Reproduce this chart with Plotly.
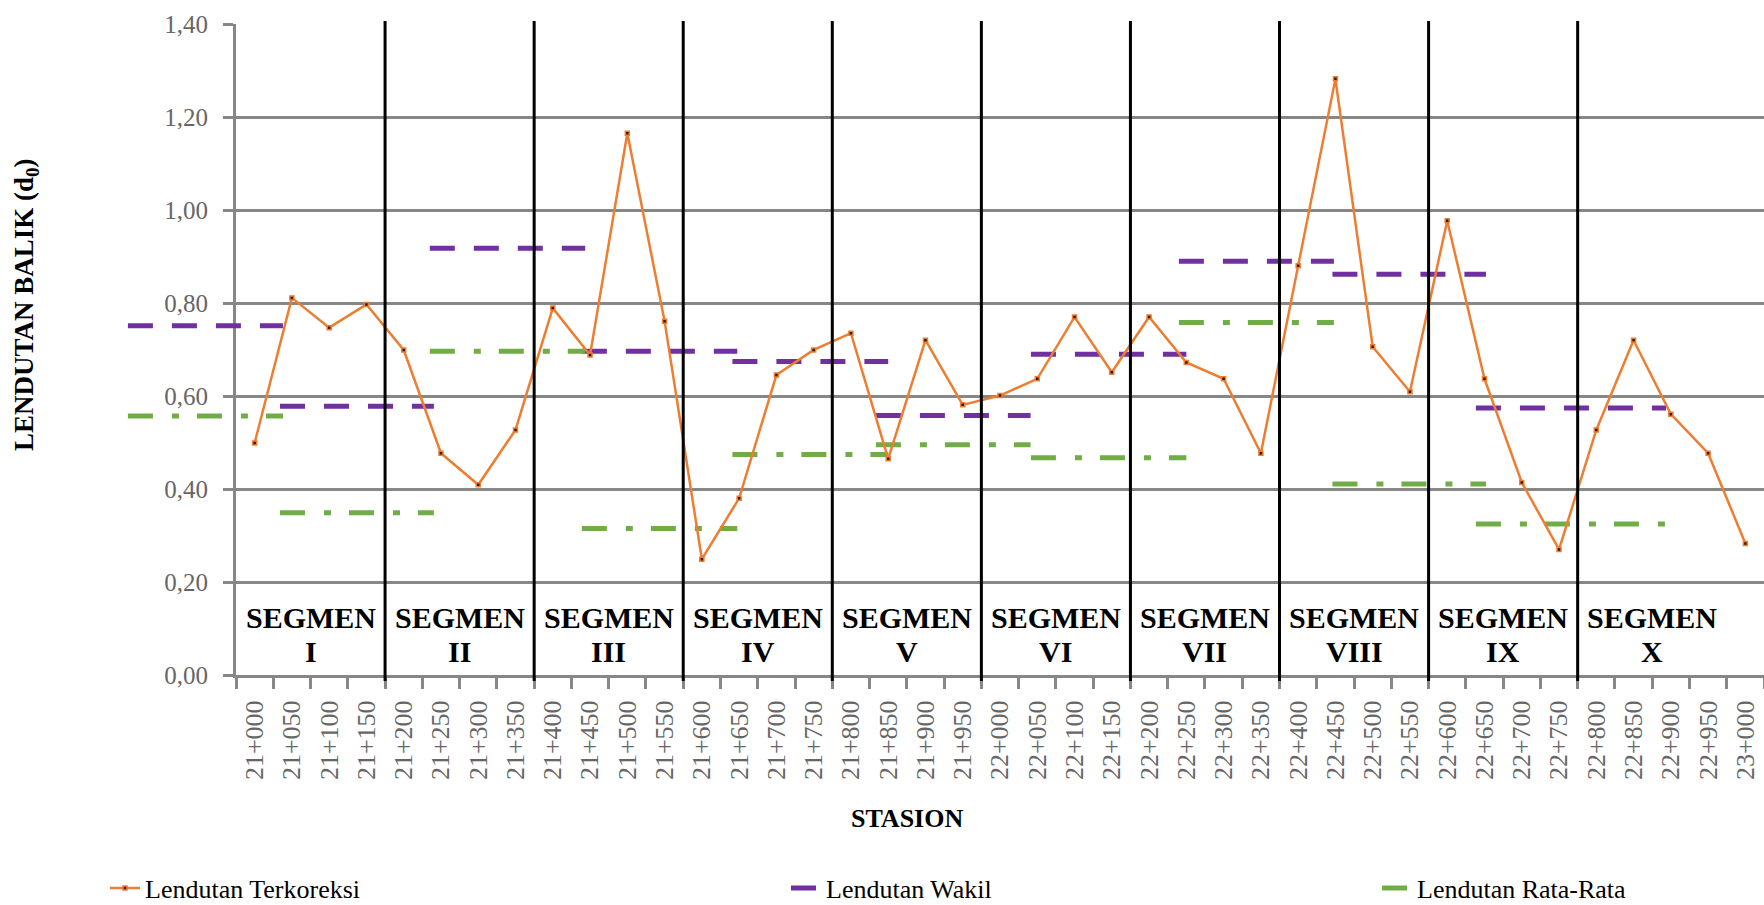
import plotly.graph_objects as go

# ---------------- data ----------------
stations = ["21+000", "21+050", "21+100", "21+150", "21+200", "21+250", "21+300", "21+350",
            "21+400", "21+450", "21+500", "21+550", "21+600", "21+650", "21+700", "21+750",
            "21+800", "21+850", "21+900", "21+950", "22+000", "22+050", "22+100", "22+150",
            "22+200", "22+250", "22+300", "22+350", "22+400", "22+450", "22+500", "22+550",
            "22+600", "22+650", "22+700", "22+750", "22+800", "22+850", "22+900", "22+950",
            "23+000"]

lendutan_terkoreksi = [0.499, 0.811, 0.747, 0.797, 0.699, 0.477, 0.409, 0.527,
                       0.789, 0.688, 1.165, 0.761, 0.249, 0.380, 0.645, 0.699,
                       0.735, 0.465, 0.720, 0.581, 0.601, 0.637, 0.770, 0.651,
                       0.770, 0.672, 0.637, 0.477, 0.880, 1.282, 0.706, 0.609,
                       0.977, 0.637, 0.414, 0.270, 0.527, 0.720, 0.561, 0.477,
                       0.283]

segments = ["I", "II", "III", "IV", "V", "VI", "VII", "VIII", "IX", "X"]
segment_sizes = [4, 4, 4, 4, 4, 4, 4, 4, 4, 5]

lendutan_wakil = [0.751, 0.578, 0.918, 0.696, 0.674, 0.558, 0.690, 0.890, 0.862, 0.574]
lendutan_rata = [0.557, 0.349, 0.696, 0.315, 0.474, 0.495, 0.467, 0.758, 0.411, 0.325]

# extent of each segment's reference line, in station-index units
line_start = [-3.40, 0.68, 4.70, 8.78, 12.82, 16.67, 20.83, 24.80, 28.92, 32.77]
line_end = [0.76, 4.81, 8.87, 12.95, 17.00, 20.82, 25.00, 28.96, 33.04, 37.87]

# ---------------- layout constants ----------------
W, H = 1764, 905
PLOT_L, PLOT_T, PLOT_B = 236, 24, 675
SERIF = "Liberation Serif"
GRID = "#878787"
TICKTXT = "#666666"

n = len(stations)
cw = (W - PLOT_L) / n
xdom = [PLOT_L / W, 1.0]
ydom = [1 - PLOT_B / H, 1 - PLOT_T / H]
x2range = [-0.5 - PLOT_L / cw, n - 0.5]
YR = [0, 1.4]


def seg_xy(values):
    xs, ys = [], []
    for s, e, v in zip(line_start, line_end, values):
        xs += [s, e, None]
        ys += [v, v, None]
    return xs, ys


fig = go.Figure()

# invisible trace that defines the station categories on the visible axis
fig.add_trace(go.Scatter(x=stations, y=lendutan_terkoreksi, xaxis="x", yaxis="y",
                         mode="lines", line=dict(width=0), opacity=0,
                         showlegend=False, hoverinfo="skip"))

wx, wy = seg_xy(lendutan_wakil)
fig.add_trace(go.Scatter(x=wx, y=wy, xaxis="x2", yaxis="y2", mode="lines",
                         name="Lendutan Wakil", legend="legend2",
                         line=dict(color="#7030A0", width=5, dash="25px,19px")))

rx, ry = seg_xy(lendutan_rata)
fig.add_trace(go.Scatter(x=rx, y=ry, xaxis="x2", yaxis="y2", mode="lines",
                         name="Lendutan Rata-Rata", legend="legend3",
                         line=dict(color="#70AD47", width=5, dash="25px,19px,7px,18px")))

fig.add_trace(go.Scatter(x=list(range(n)), y=lendutan_terkoreksi, xaxis="x2", yaxis="y2",
                         mode="lines+markers", name="Lendutan Terkoreksi", legend="legend",
                         line=dict(color="#ED7D31", width=2.5),
                         marker=dict(symbol="square", size=4, color="#3a1a05",
                                     line=dict(color="#ED7D31", width=1.5))))

# segment boundaries and labels
shapes = []
annotations = []
pos = 0
for name, size in zip(segments, segment_sizes):
    center = pos + 1.5
    annotations.append(dict(x=center, y=0.1234, xref="x2", yref="y2", text="<b>SEGMEN</b>",
                            showarrow=False, xanchor="center", yanchor="middle",
                            font=dict(family=SERIF, size=30, color="black")))
    annotations.append(dict(x=center, y=0.0495, xref="x2", yref="y2", text="<b>%s</b>" % name,
                            showarrow=False, xanchor="center", yanchor="middle",
                            font=dict(family=SERIF, size=30, color="black")))
    pos += size
    if pos < n:
        shapes.append(dict(type="line", xref="x2", yref="paper",
                           x0=pos - 0.5, x1=pos - 0.5,
                           y0=ydom[0] - 6 / H, y1=ydom[1] + 3 / H,
                           line=dict(color="black", width=3), layer="above"))

# axis titles
annotations.append(dict(x=907 / W, y=1 - 818 / H, xref="paper", yref="paper",
                        text="<b>STASION</b>", showarrow=False,
                        xanchor="center", yanchor="middle",
                        font=dict(family=SERIF, size=26, color="black")))
annotations.append(dict(x=26 / W, y=1 - 305 / H, xref="paper", yref="paper",
                        text="<b>LENDUTAN BALIK (d<sub>0</sub>)</b>", showarrow=False,
                        textangle=-90, xanchor="center", yanchor="middle",
                        font=dict(family=SERIF, size=27, color="black")))

legend_common = dict(orientation="h", yanchor="middle", xanchor="left",
                     y=1 - 888 / H, bgcolor="rgba(0,0,0,0)",
                     font=dict(family=SERIF, size=26, color="black"))

fig.update_layout(
    width=W, height=H,
    margin=dict(l=0, r=0, t=0, b=0, autoexpand=False),
    paper_bgcolor="white",
    plot_bgcolor="rgba(0,0,0,0)",
    separators=", ",
    font=dict(family=SERIF),
    xaxis=dict(type="category", domain=xdom, anchor="y", range=[-0.5, n - 0.5],
               automargin=False,
               categoryorder="array", categoryarray=stations,
               tickson="boundaries", ticks="outside", ticklen=11, tickwidth=2.5,
               tickcolor=GRID, showline=True, linewidth=3, linecolor=GRID,
               showgrid=False, tickangle=-90, ticklabelstandoff=12,
               tickfont=dict(family=SERIF, size=26, color=TICKTXT)),
    yaxis=dict(domain=ydom, anchor="x", range=YR, dtick=0.2, tick0=0,
               automargin=False,
               tickformat=".2f", showgrid=True, gridcolor=GRID, gridwidth=3,
               showline=True, linewidth=3, linecolor=GRID, zeroline=False,
               ticks="outside", ticklen=10, tickwidth=2.5, tickcolor=GRID,
               ticklabelstandoff=10,
               tickfont=dict(family=SERIF, size=25, color=TICKTXT)),
    xaxis2=dict(domain=[0, 1], anchor="y2", range=x2range, visible=False, automargin=False),
    yaxis2=dict(domain=ydom, anchor="x2", range=YR, visible=False, showgrid=False,
                automargin=False),
    legend=dict(x=105 / W, **legend_common),
    legend2=dict(x=786 / W, **legend_common),
    legend3=dict(x=1377 / W, **legend_common),
    shapes=shapes,
    annotations=annotations,
    hovermode=False,
)

fig.write_html("out.html",
               config={"displayModeBar": False},
               post_script="document.body.style.margin='0';document.body.style.overflow='hidden';")
